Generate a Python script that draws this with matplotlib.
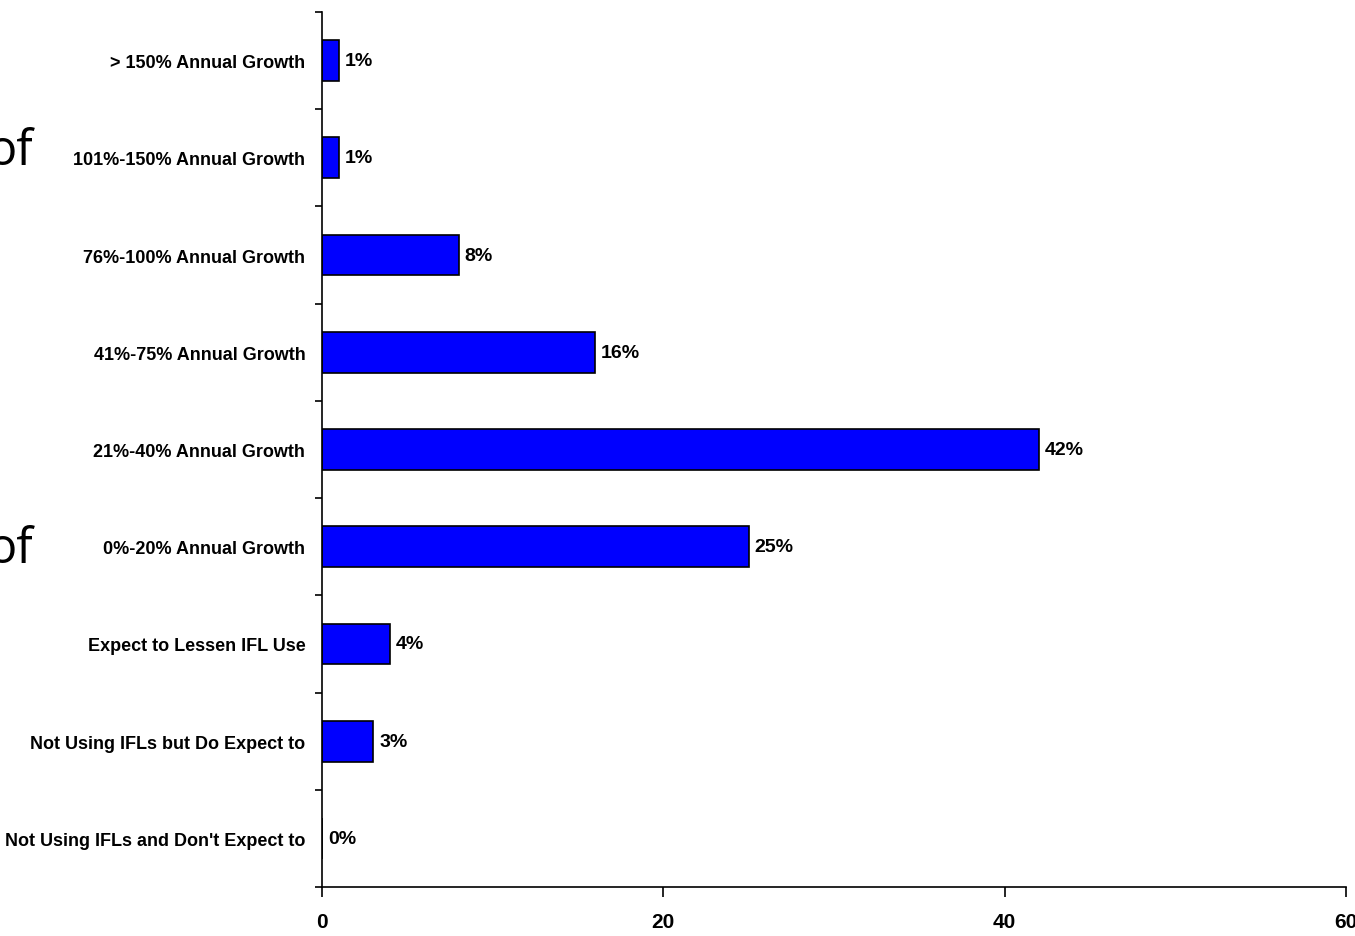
import matplotlib
matplotlib.use("Agg")
import matplotlib.pyplot as plt

categories = [
    "Not Using IFLs and Don't Expect to",
    "Not Using IFLs but Do Expect to",
    "Expect to Lessen IFL Use",
    "0%-20% Annual Growth",
    "21%-40% Annual Growth",
    "41%-75% Annual Growth",
    "76%-100% Annual Growth",
    "101%-150% Annual Growth",
    "> 150% Annual Growth",
]
values = [0, 3, 4, 25, 42, 16, 8, 1, 1]
x_ticks = [0, 20, 40, 60]

plt.rcParams["font.family"] = ["Liberation Sans", "DejaVu Sans"]

fig = plt.figure(figsize=(13.55, 9.37), dpi=100)
ax = fig.add_axes([322 / 1355, 49 / 937, 1024 / 1355, 875 / 937])

pos = list(range(len(categories)))
ax.barh(pos, values, height=0.42, color="#0000FF", edgecolor="black", linewidth=1.2)

for p, v in zip(pos, values):
    ax.text(v + 0.35, p, f"{v}%", va="center", ha="left", fontsize=14, fontweight="bold")

ax.set_xlim(0, 60)
ax.set_ylim(-0.5, len(categories) - 0.5)
ax.set_xticks(x_ticks)
ax.set_xticklabels([str(t) for t in x_ticks], fontsize=15, fontweight="bold")
ax.tick_params(axis="x", length=7, width=1.2, pad=11)

ax.set_yticks(pos)
ax.set_yticklabels(categories, fontsize=13, fontweight="bold")
ax.tick_params(axis="y", which="major", length=0, pad=12)
ax.set_yticks([p - 0.5 for p in pos] + [len(categories) - 0.5], minor=True)
ax.tick_params(axis="y", which="minor", length=5, width=1.2)

ax.spines["top"].set_visible(False)
ax.spines["right"].set_visible(False)
ax.spines["left"].set_linewidth(1.2)
ax.spines["bottom"].set_linewidth(1.2)

# partial text from the slide behind the chart
for ypix in [165, 563]:
    fig.text(33 / 1355, 1 - ypix / 937, "of", ha="right", va="baseline",
             fontsize=35, family=["Open Sans", "DejaVu Sans"])

fig.savefig("out.png", dpi=100)
